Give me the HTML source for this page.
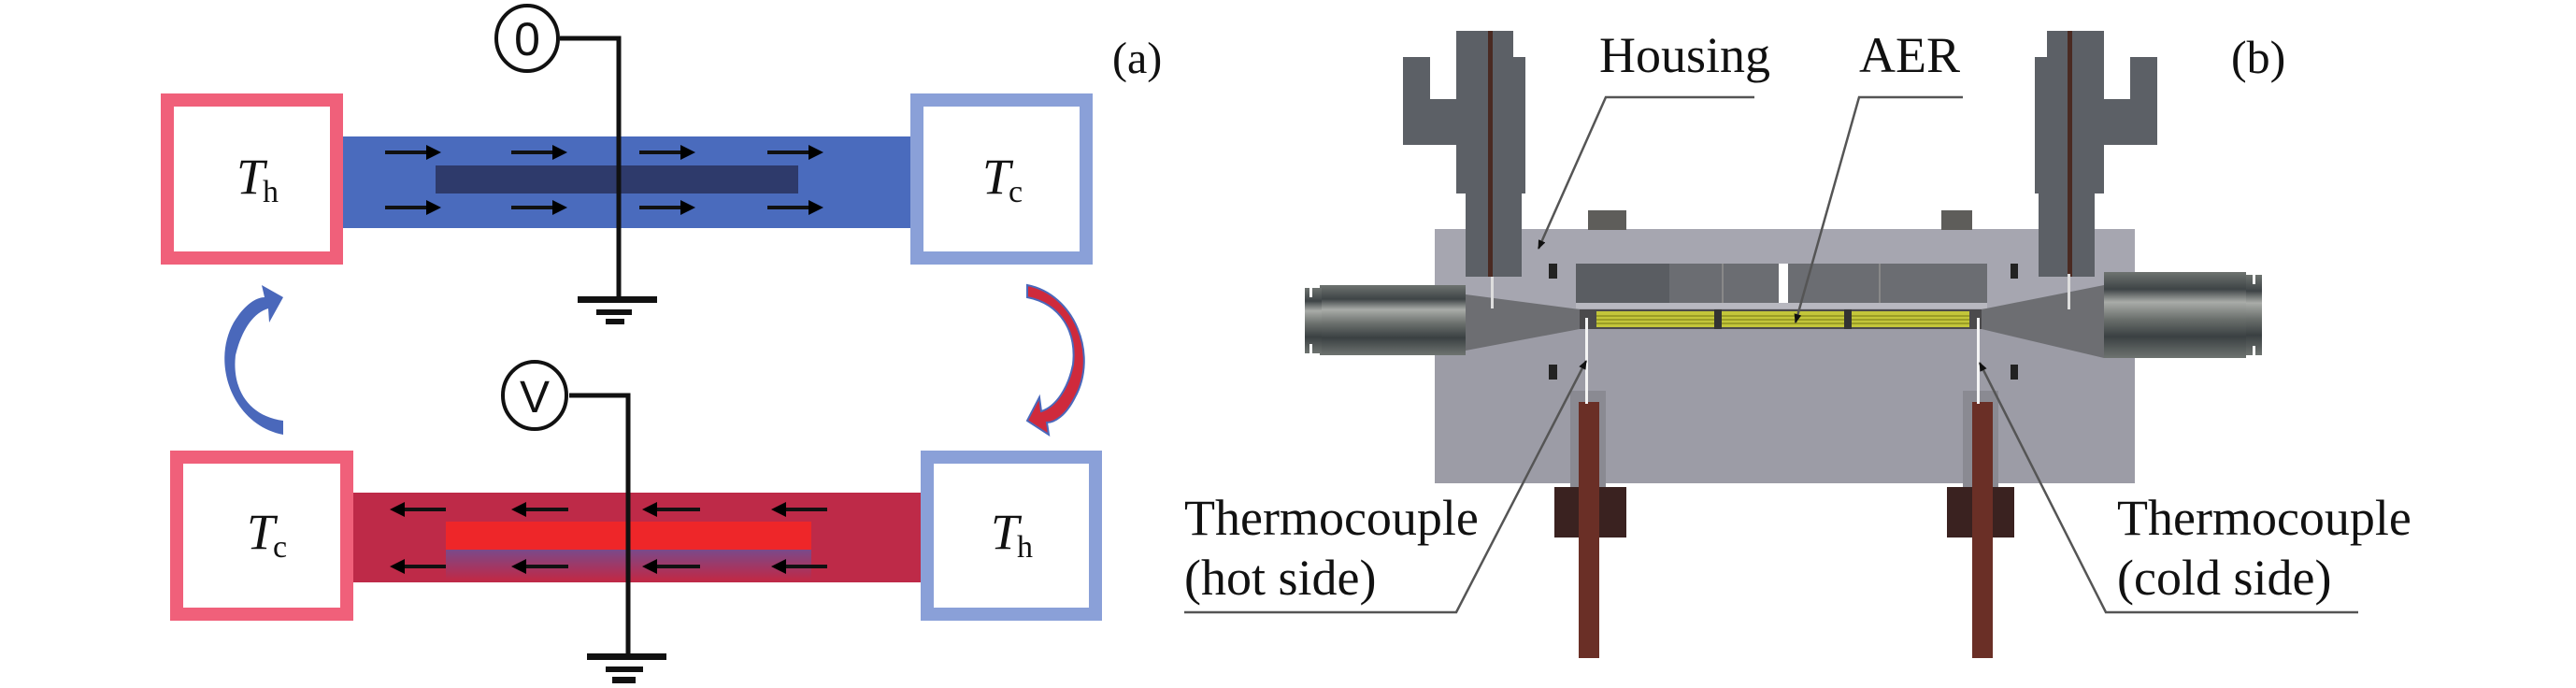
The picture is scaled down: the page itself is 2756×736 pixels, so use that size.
<!DOCTYPE html>
<html><head><meta charset="utf-8"><style>
html,body{margin:0;padding:0;background:#fff;}
svg{display:block;}
text{font-family:"Liberation Serif",serif;fill:#111;}
</style></head><body>
<svg width="2756" height="736" viewBox="0 0 2756 736" xmlns="http://www.w3.org/2000/svg">
<defs>
<marker id="ah" markerWidth="4" markerHeight="4" refX="3" refY="2" orient="auto" markerUnits="strokeWidth">
<path d="M0,0 L4,2 L0,4 z" fill="#000"/></marker>
<marker id="lh" markerWidth="10" markerHeight="8" refX="9" refY="4" orient="auto" markerUnits="userSpaceOnUse">
<path d="M0,0 L10,4 L0,8 z" fill="#111"/></marker>
<linearGradient id="glow" x1="0" y1="0" x2="0" y2="1">
<stop offset="0" stop-color="#7a4a8a"/><stop offset="1" stop-color="#be2a48"/></linearGradient>
<linearGradient id="conn" x1="0" y1="0" x2="0" y2="1">
<stop offset="0" stop-color="#6e7370"/><stop offset="0.2" stop-color="#3e4446"/><stop offset="0.35" stop-color="#a9aca8"/><stop offset="0.55" stop-color="#6a6f6c"/><stop offset="0.75" stop-color="#3a4042"/><stop offset="1" stop-color="#6e7370"/></linearGradient>
</defs>

<!-- ===== Panel (a) top ===== -->
<rect x="365" y="146" width="609" height="98" fill="#4a6bbd"/>
<rect x="466" y="177" width="388" height="30" fill="#2e3a6b"/>
<g stroke="#111" stroke-width="4" marker-end="url(#ah)">
<line x1="412" y1="163" x2="468" y2="163"/><line x1="547" y1="163" x2="603" y2="163"/><line x1="684" y1="163" x2="740" y2="163"/><line x1="821" y1="163" x2="877" y2="163"/>
<line x1="412" y1="222" x2="468" y2="222"/><line x1="547" y1="222" x2="603" y2="222"/><line x1="684" y1="222" x2="740" y2="222"/><line x1="821" y1="222" x2="877" y2="222"/>
</g>
<rect x="179" y="107" width="181" height="169" fill="#fff" stroke="#f0607a" stroke-width="14"/>
<rect x="981" y="107" width="181" height="169" fill="#fff" stroke="#8aa0d8" stroke-width="14"/>
<text x="253" y="207" font-size="54" font-style="italic">T</text><text x="281" y="216" font-size="34">h</text>
<text x="1051" y="207" font-size="54" font-style="italic">T</text><text x="1079" y="216" font-size="34">c</text>
<polyline points="599,41 662,41 662,320" fill="none" stroke="#111" stroke-width="5"/>
<ellipse cx="564" cy="41" rx="33" ry="35" fill="#fff" stroke="#111" stroke-width="4"/>
<text x="564" y="59" font-size="50" text-anchor="middle" style="font-family:'Liberation Sans',sans-serif">0</text>
<rect x="618" y="317" width="85" height="7" fill="#111"/>
<rect x="638" y="331" width="38" height="6" fill="#111"/>
<rect x="648" y="341" width="20" height="6" fill="#111"/>
<text x="1190" y="78" font-size="48">(a)</text>

<!-- curved arrows -->
<path d="M303,465 C250,455 225,390 250,345 C262,325 275,318 283,318 L280,305 L303,318 L288,345 L287,330 C270,335 258,355 252,380 C248,415 265,445 303,450 Z" fill="#4a68bb"/>
<path d="M1099,305 C1150,315 1175,380 1150,425 C1140,445 1128,452 1120,452 L1122,465 L1099,450 L1112,425 L1114,440 C1130,435 1143,415 1148,390 C1152,355 1135,325 1099,318 Z" fill="#cf2a3c" stroke="#4a68bb" stroke-width="2"/>

<!-- ===== Panel (a) bottom ===== -->
<rect x="378" y="527" width="607" height="96" fill="#be2a48"/>
<rect x="477" y="588" width="391" height="32" fill="url(#glow)"/>
<rect x="477" y="558" width="391" height="30" fill="#ee2629"/>
<g stroke="#111" stroke-width="4" marker-end="url(#ah)">
<line x1="477" y1="545" x2="421" y2="545"/><line x1="608" y1="545" x2="551" y2="545"/><line x1="749" y1="545" x2="691" y2="545"/><line x1="885" y1="545" x2="829" y2="545"/>
<line x1="477" y1="606" x2="421" y2="606"/><line x1="608" y1="606" x2="551" y2="606"/><line x1="749" y1="606" x2="691" y2="606"/><line x1="885" y1="606" x2="829" y2="606"/>
</g>
<rect x="189" y="489" width="182" height="168" fill="#fff" stroke="#f0607a" stroke-width="14"/>
<rect x="992" y="489" width="180" height="168" fill="#fff" stroke="#8aa0d8" stroke-width="14"/>
<text x="264" y="587" font-size="54" font-style="italic">T</text><text x="292" y="596" font-size="34">c</text>
<text x="1060" y="587" font-size="54" font-style="italic">T</text><text x="1088" y="596" font-size="34">h</text>
<polyline points="609,423 672,423 672,703" fill="none" stroke="#111" stroke-width="5"/>
<ellipse cx="572" cy="423" rx="34" ry="36" fill="#fff" stroke="#111" stroke-width="4"/>
<text x="572" y="441" font-size="48" text-anchor="middle" style="font-family:'Liberation Sans',sans-serif">V</text>
<rect x="628" y="699" width="85" height="7" fill="#111"/>
<rect x="648" y="713" width="40" height="6" fill="#111"/>
<rect x="655" y="724" width="25" height="7" fill="#111"/>

<!-- ===== Panel (b) ===== -->
<rect x="1535" y="245" width="749" height="92" fill="#a6a6b0"/>
<rect x="1535" y="337" width="749" height="180" fill="#9c9ca6"/>
<rect x="1699" y="225" width="41" height="21" fill="#5e5d5a"/>
<rect x="2077" y="225" width="33" height="21" fill="#5e5d5a"/>
<rect x="1686" y="282" width="440" height="42" fill="#6b6d72"/>
<rect x="1686" y="282" width="100" height="42" fill="#5a5d62"/>
<rect x="1842" y="282" width="2" height="42" fill="#888"/>
<rect x="2010" y="282" width="2" height="42" fill="#888"/>
<rect x="1903" y="282" width="10" height="42" fill="#fff"/>
<rect x="1686" y="324" width="440" height="6" fill="#b8b8c0"/>
<rect x="1657" y="282" width="9" height="16" fill="#222"/>
<rect x="1657" y="390" width="9" height="16" fill="#222"/>
<rect x="2151" y="282" width="8" height="16" fill="#222"/>
<rect x="2151" y="390" width="8" height="16" fill="#222"/>
<polygon points="1568,315 1690,331 2120,331 2251,305 2251,383 2120,352 1690,352 1568,375" fill="#6d6e72"/>
<rect x="1690" y="331" width="430" height="21" fill="#4b4a4c"/>
<rect x="1708" y="333" width="399" height="17" fill="#c3c63a"/>
<g stroke="#8e9020" stroke-width="1.5"><line x1="1708" y1="338" x2="2107" y2="338"/><line x1="1708" y1="342" x2="2107" y2="342"/><line x1="1708" y1="346" x2="2107" y2="346"/></g>
<rect x="1834" y="331" width="8" height="21" fill="#333"/>
<rect x="1973" y="331" width="8" height="21" fill="#333"/>
<rect x="1412" y="305" width="156" height="75" fill="url(#conn)"/>
<rect x="1396" y="308" width="18" height="70" fill="url(#conn)"/>
<rect x="1401" y="308" width="3" height="10" fill="#fff"/><rect x="1401" y="368" width="3" height="10" fill="#fff"/>
<rect x="2251" y="291" width="152" height="92" fill="url(#conn)"/>
<rect x="2403" y="294" width="17" height="86" fill="url(#conn)"/>
<rect x="2410" y="294" width="3" height="10" fill="#fff"/><rect x="2410" y="370" width="3" height="10" fill="#fff"/>
<g id="fit">
<polygon points="1558,33 1619,33 1619,61 1632,61 1632,207 1628,207 1628,296 1568,296 1568,207 1558,207 1558,155 1501,155 1501,61 1530,61 1530,106 1558,106" fill="#5c6066"/>
<rect x="1592" y="33" width="5" height="263" fill="#4a2a22"/>
</g>
<use href="#fit" transform="translate(3809,0) scale(-1,1)"/>
<rect x="1595" y="296" width="3" height="34" fill="#ddd"/>
<rect x="2212" y="293" width="3" height="38" fill="#ddd"/>
<rect x="1680" y="418" width="38" height="103" fill="#8a8a92"/>
<rect x="2100" y="418" width="38" height="103" fill="#8a8a92"/>
<rect x="1663" y="521" width="77" height="54" fill="#3a2220"/>
<rect x="2083" y="521" width="72" height="54" fill="#3a2220"/>
<rect x="1689" y="430" width="22" height="274" fill="#6a2f26"/>
<rect x="2110" y="430" width="22" height="274" fill="#6a2f26"/>
<rect x="1696" y="340" width="3" height="92" fill="#f4f4f4"/>
<rect x="2115" y="340" width="3" height="92" fill="#f4f4f4"/>

<g stroke="#555" stroke-width="2.5" fill="none">
<polyline points="1877,104 1718,104 1646,266" marker-end="url(#lh)"/>
<polyline points="2100,104 1989,104 1921,345" marker-end="url(#lh)"/>
<polyline points="1267,655 1558,655 1697,386" marker-end="url(#lh)"/>
<polyline points="2523,655 2253,655 2118,388" marker-end="url(#lh)"/>
</g>
<text x="1711" y="77" font-size="54">Housing</text>
<text x="1989" y="77" font-size="54">AER</text>
<text x="2387" y="78" font-size="50">(b)</text>
<text x="1267" y="572" font-size="54">Thermocouple</text>
<text x="1267" y="636" font-size="54">(hot side)</text>
<text x="2265" y="572" font-size="54">Thermocouple</text>
<text x="2265" y="636" font-size="54">(cold side)</text>
</svg>
</body></html>
